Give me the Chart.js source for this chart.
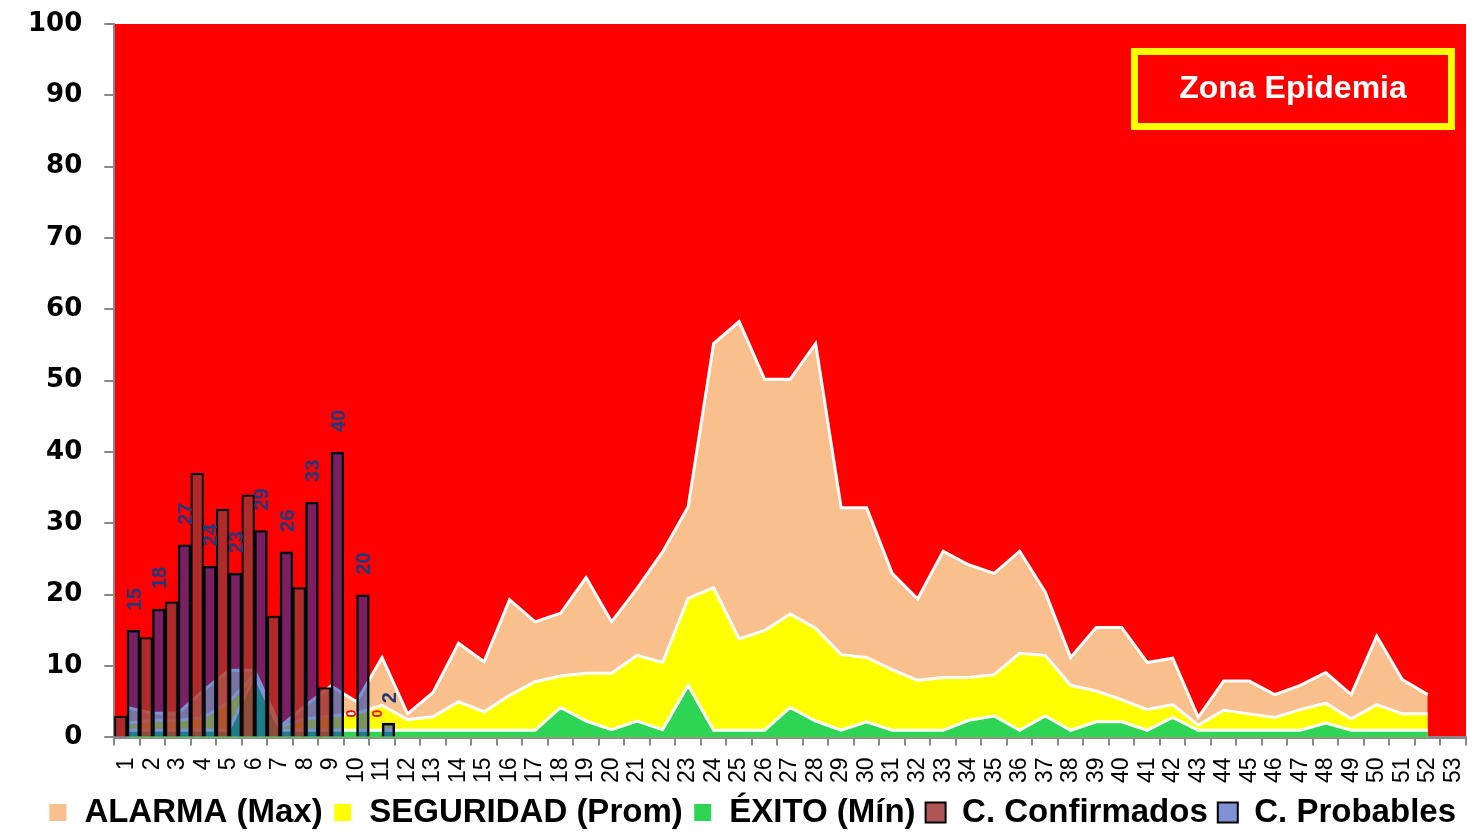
<!DOCTYPE html>
<html>
<head>
<meta charset="utf-8">
<script src="https://cdn.jsdelivr.net/npm/chart.js@4.4.1/dist/chart.umd.min.js"></script>
<style>
  html, body { margin: 0; padding: 0; background: #fff; }
  #wrap { width: 1472px; height: 832px; position: relative; }
</style>
</head>
<body>
<div id="wrap"><canvas id="canal"></canvas></div>
<script>
const weeks = Array.from({length: 53}, (_, i) => String(i + 1));

const alarma = [4.2, 3.4, 3.4, 6.6, 9.4, 9.4, 1.5, 4.5, 7.2, 5,
  11.2, 3.3, 6.3, 13.2, 10.6, 19.3, 16.2, 17.4, 22.4, 16.2,
  20.9, 26, 32.3, 55.2, 58.3, 50.2, 50.2, 55.2, 32.2, 32.2,
  23, 19.4, 26.1, 24.2, 23, 26.1, 20.4, 11.2, 15.4, 15.4,
  10.5, 11.1, 2.8, 7.9, 7.9, 6, 7.3, 9.1, 6, 14.2,
  8.1, 6];

const seguridad = [2, 2.4, 2.4, 2.8, 5, 8.8, 1.5, 2.6, 3, 3.4,
  4.5, 2.5, 2.9, 5, 3.6, 5.9, 7.8, 8.6, 9, 9,
  11.5, 10.5, 19.5, 21, 13.8, 15, 17.3, 15.3, 11.6, 11.2,
  9.5, 8, 8.4, 8.4, 8.8, 11.8, 11.5, 7.3, 6.5, 5.3,
  3.9, 4.6, 1.7, 3.8, 3.3, 2.8, 3.9, 4.8, 2.6, 4.6,
  3.3, 3.3];

const exito = [1, 1, 1, 1, 1, 8.7, 1, 1, 1, 1,
  1, 1, 1, 1, 1, 1, 1, 4.2, 2.3, 1.1,
  2.3, 1.1, 7.3, 1, 1, 1, 4.2, 2.3, 1, 2.2,
  1, 1, 1, 2.4, 3, 1, 3, 1, 2.2, 2.2,
  1, 2.8, 1, 1, 1, 1, 1, 2, 1, 1,
  1, 1];

const confirmados = [3, 14, 19, 37, 32, 34, 17, 21, 7, 0, 0];
const probables = [15, 18, 27, 24, 23, 29, 26, 33, 40, 20, 2];

const RED = '#FF0000';

const backgroundPlugin = {
  id: 'zonaFondo',
  beforeDraw(chart) {
    const {ctx, chartArea} = chart;
    ctx.save();
    ctx.fillStyle = '#fff';
    ctx.fillRect(0, 0, chart.width, chart.height);
    ctx.fillStyle = RED;
    ctx.fillRect(chartArea.left, chartArea.top, chartArea.right - chartArea.left, chartArea.bottom - chartArea.top);
    ctx.restore();
  },
  afterDraw(chart) {
    // recuadro "Zona Epidemia"
    const {ctx} = chart;
    ctx.save();
    ctx.strokeStyle = '#FFFF00';
    ctx.lineWidth = 7;
    ctx.strokeRect(1134.5, 51.5, 317, 75);
    ctx.fillStyle = '#fff';
    ctx.font = 'bold 32px "Liberation Sans", Arial, sans-serif';
    ctx.textAlign = 'center';
    ctx.textBaseline = 'middle';
    ctx.fillText('Zona Epidemia', 1293, 89);
    ctx.restore();
  }
};

const barLabelsPlugin = {
  id: 'barLabels',
  afterDatasetsDraw(chart) {
    const {ctx} = chart;
    [[3, '#FF0000', 'bold 14px "Liberation Sans", Arial, sans-serif'],
     [4, '#1F3A7C', 'bold 20px "Liberation Sans", Arial, sans-serif']].forEach(([idx, color, font]) => {
      const meta = chart.getDatasetMeta(idx);
      const values = chart.data.datasets[idx].data;
      meta.data.forEach((bar, i) => {
        if (values[i] == null) return;
        ctx.save();
        ctx.translate(bar.x + 2, bar.y - 20);
        ctx.rotate(-Math.PI / 2);
        ctx.fillStyle = color;
        ctx.font = font;
        ctx.textAlign = 'left';
        ctx.textBaseline = 'middle';
        ctx.fillText(String(values[i]), 0, 0);
        ctx.restore();
      });
    });
  }
};

const areaStyle = (color) => ({
  type: 'line',
  backgroundColor: color,
  borderColor: '#fff',
  borderWidth: 3,
  pointRadius: 0,
  tension: 0,
  fill: 'origin'
});

new Chart(document.getElementById('canal'), {
  data: {
    labels: weeks,
    datasets: [
      Object.assign(areaStyle('#F9BF8C'), {label: 'ALARMA (Max)', data: alarma, order: 5}),
      Object.assign(areaStyle('#FFFF00'), {label: 'SEGURIDAD (Prom)', data: seguridad, order: 4}),
      Object.assign(areaStyle('#2ED453'), {label: 'ÉXITO (Mín)', data: exito, order: 3}),
      {
        type: 'bar', label: 'C. Confirmados', data: confirmados, order: 1,
        backgroundColor: 'rgba(160, 51, 51, 0.83)', borderColor: '#000', borderWidth: 2,
        categoryPercentage: 1, barPercentage: 1
      },
      {
        type: 'bar', label: 'C. Probables', data: probables, order: 2,
        backgroundColor: 'rgba(17, 55, 174, 0.545)', borderColor: '#000', borderWidth: 2,
        categoryPercentage: 1, barPercentage: 1
      }
    ]
  },
  options: {
    responsive: true,
    maintainAspectRatio: false,
    animation: false,
    layout: {padding: {top: 24, left: 6, right: 6, bottom: -7}},
    plugins: {
      tooltip: {enabled: false},
      legend: {
        position: 'bottom',
        align: 'end',
        labels: {
          color: '#000',
          font: {family: '"Liberation Sans", Arial, sans-serif', size: 33, weight: 'bold'},
          boxWidth: 20,
          boxHeight: 20,
          padding: 10,
          sort: (a, b) => a.datasetIndex - b.datasetIndex
        }
      }
    },
    scales: {
      x: {
        offset: true,
        grid: {offset: true, drawOnChartArea: false, tickLength: 8, color: '#888', lineWidth: 2},
        border: {color: '#888', width: 3},
        ticks: {
          autoSkip: false, maxRotation: 90, minRotation: 90, padding: 12,
          color: '#000', font: {family: '"Liberation Sans", Arial, sans-serif', size: 23}
        },
        afterFit(scale) {
          scale.paddingLeft = 0;
          scale.paddingRight = 0;
          scale.height -= 9;
        }
      },
      y: {
        min: 0, max: 100,
        grid: {drawOnChartArea: false, tickLength: 10, color: '#888', lineWidth: 2},
        border: {color: '#888', width: 2},
        ticks: {
          stepSize: 10, padding: 22, color: '#000',
          font: {family: '"DejaVu Sans", Verdana, sans-serif', size: 26, weight: 'bold'}
        },
        afterFit(scale) {
          scale.paddingTop = 0;
          scale.paddingBottom = 0;
        }
      }
    }
  },
  plugins: [backgroundPlugin, barLabelsPlugin]
});
</script>
</body>
</html>
